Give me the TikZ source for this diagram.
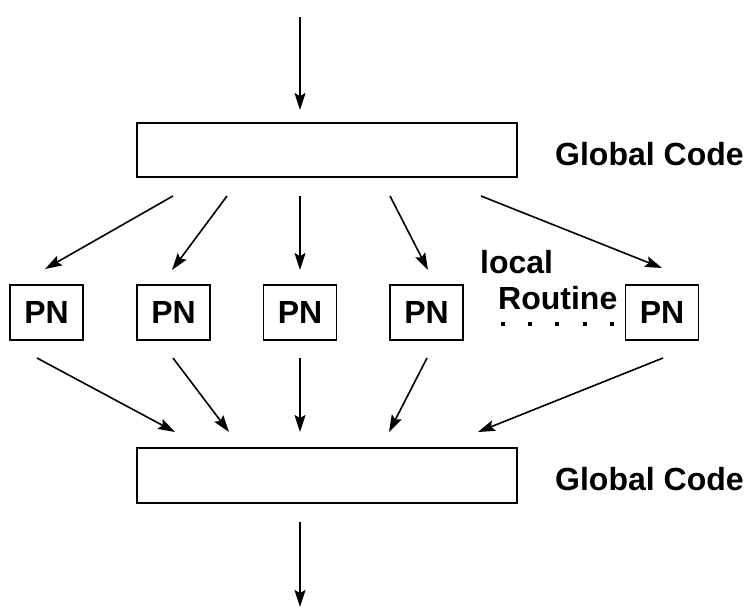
\documentclass[tikz,border=0pt]{standalone}
\usepackage{fontspec}
\setmainfont{Liberation Sans}
\usetikzlibrary{arrows.meta}
\begin{document}
\begin{tikzpicture}[x=1pt,y=-1pt,
  bigbox/.style={draw,line width=1.5pt,minimum width=380pt,minimum height=54pt,inner sep=0pt},
  pnbox/.style={draw,line width=1.5pt,minimum width=73pt,minimum height=55pt,inner sep=0pt,
    font=\fontsize{32}{38}\selectfont\bfseries},
  lbl/.style={inner sep=0pt,anchor=base west,font=\fontsize{32}{38}\selectfont\bfseries},
  arr/.style={line width=1.6pt,-{Stealth[length=17pt,width=11pt,inset=3pt]}}]
\useasboundingbox (0,0) rectangle (747,610);
% boxes
\node[bigbox] (top) at (327,150) {};
\node[bigbox,minimum height=55pt] (bot) at (327,475.5) {};
\node[pnbox] (pn1) at (46.5,312.5) {PN};
\node[pnbox] (pn2) at (173.5,312.5) {PN};
\node[pnbox] (pn3) at (300,312.5) {PN};
\node[pnbox] (pn4) at (426.5,312.5) {PN};
\node[pnbox] (pn5) at (662,312.5) {PN};
% labels
\node[lbl] (gc1) at (555,165) {Global Code};
\node[lbl] (gc2) at (555,490) {Global Code};
\node[lbl] (loc) at (480,273) {local};
\node[lbl] (rou) at (498,309) {Routine};
% dots
\foreach \x in {503,530,557,585,612}
  \fill (\x-2,322) rectangle (\x+2,326);
% connector end points
\coordinate (in0) at (300,17);   \coordinate (in1) at (300,110);
\coordinate (t1) at (173,196);   \coordinate (u1) at (45,269);
\coordinate (t2) at (227,196);   \coordinate (u2) at (172,270);
\coordinate (t3) at (300,196);   \coordinate (u3) at (300,270);
\coordinate (t4) at (390,196);   \coordinate (u4) at (428,270);
\coordinate (t5) at (481,196);   \coordinate (u5) at (662,268);
\coordinate (b1) at (37,358);    \coordinate (c1) at (175,432);
\coordinate (b2) at (173,358);   \coordinate (c2) at (229,432);
\coordinate (b3) at (300,358);   \coordinate (c3) at (300,432);
\coordinate (b4) at (427,358);   \coordinate (c4) at (389,432);
\coordinate (b5) at (663,358);   \coordinate (c5) at (478,432);
\coordinate (out0) at (300,522); \coordinate (out1) at (300,607);
% connectors
\draw[arr] (in0) -- (in1);
\foreach \i in {1,...,5} {
  \draw[arr] (t\i) -- (u\i);
  \draw[arr] (b\i) -- (c\i);
}
\draw[arr] (out0) -- (out1);
\end{tikzpicture}
\end{document}
